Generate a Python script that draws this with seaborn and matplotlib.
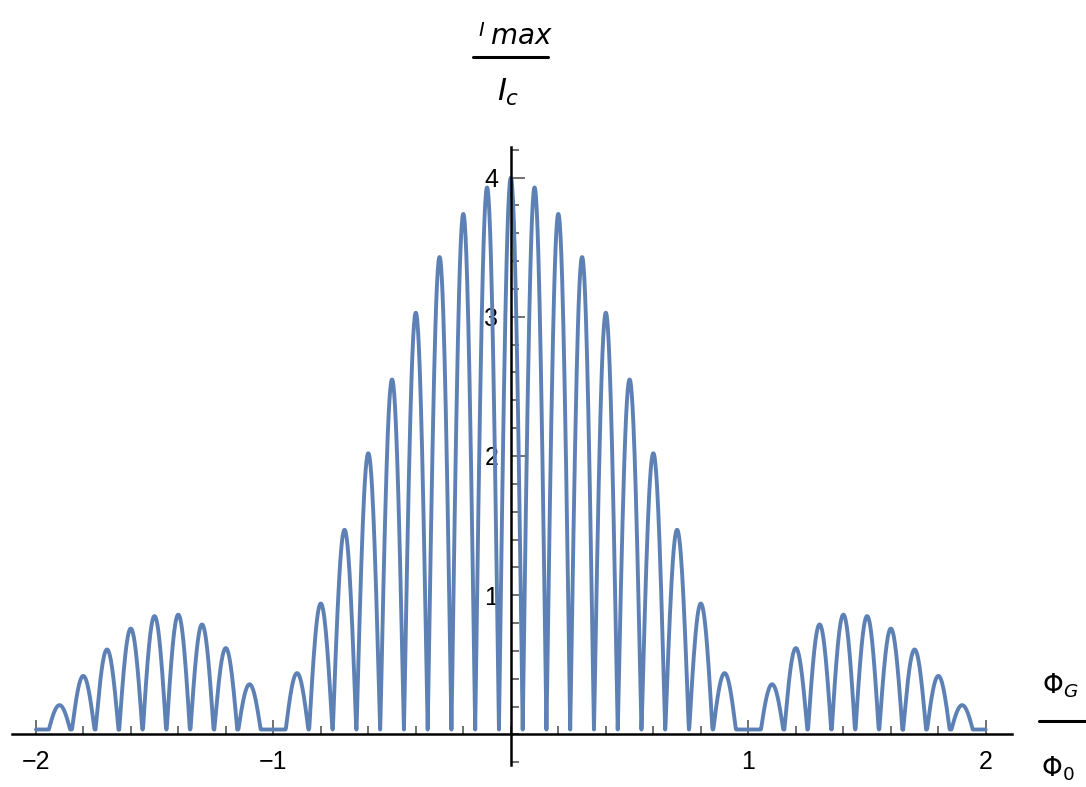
import numpy as np
import pandas as pd
import matplotlib
matplotlib.use("Agg")
from matplotlib import pyplot as plt
from matplotlib.ticker import FixedLocator, MultipleLocator
import seaborn as sns

# centre of every lobe (Phi_G / Phi_0) and its peak height (I_max / I_c)
lobe_x = [-2.0, -1.9, -1.8, -1.7, -1.6, -1.5, -1.4, -1.3, -1.2, -1.1,
          -1.0, -0.9, -0.8, -0.7, -0.6, -0.5, -0.4, -0.3, -0.2, -0.1,
          0.0, 0.1, 0.2, 0.3, 0.4, 0.5, 0.6, 0.7, 0.8, 0.9,
          1.0, 1.1, 1.2, 1.3, 1.4, 1.5, 1.6, 1.7, 1.8, 1.9, 2.0]
lobe_h = [0.0, 0.21, 0.42, 0.61, 0.76, 0.85, 0.86, 0.79, 0.62, 0.36,
          0.0, 0.44, 0.94, 1.47, 2.02, 2.55, 3.03, 3.43, 3.74, 3.93,
          4.00, 3.93, 3.74, 3.43, 3.03, 2.55, 2.02, 1.47, 0.94, 0.44,
          0.0, 0.36, 0.62, 0.79, 0.86, 0.85, 0.76, 0.61, 0.42, 0.21, 0.0]
half_width = 0.05   # each lobe spans centre +- half_width
floor = 0.035       # the curve never drops below this in the picture
x_range = (-2.0, 2.0)

x_ticks = [-2, -1, 1, 2]
y_ticks = [1, 2, 3, 4]

# build the arches lobe by lobe
xs, ys = [], []
for c, h in zip(lobe_x, lobe_h):
    t = np.linspace(-half_width, half_width, 60)
    xs.append(c + t)
    ys.append(h * np.abs(np.cos(np.pi * t / (2 * half_width))))
df = pd.DataFrame({"x": np.concatenate(xs), "y": np.concatenate(ys)})
df = df[(df["x"] >= x_range[0]) & (df["x"] <= x_range[1])]
df["y"] = df["y"].clip(lower=floor)

sns.set_style("white")
plt.rcParams["font.family"] = ["Liberation Sans", "DejaVu Sans"]

fig = plt.figure(figsize=(10.86, 7.87), dpi=100)
ax = fig.add_axes([12 / 1086, 22 / 787, 1000 / 1086, 618 / 787])

sns.lineplot(data=df, x="x", y="y", ax=ax, color="#5e81b5", lw=2.8,
             estimator=None, sort=False)

ax.set_xlim(-2.1, 2.11)
ax.set_ylim(-0.22, 4.22)
ax.set_xlabel("")
ax.set_ylabel("")

for side in ["top", "right"]:
    ax.spines[side].set_visible(False)
for side in ["left", "bottom"]:
    ax.spines[side].set_position(("data", 0))
    ax.spines[side].set_color("black")
    ax.spines[side].set_linewidth(1.8)

ax.xaxis.set_major_locator(FixedLocator(x_ticks))
ax.yaxis.set_major_locator(FixedLocator(y_ticks))
ax.xaxis.set_minor_locator(MultipleLocator(0.2))
ax.yaxis.set_minor_locator(MultipleLocator(0.2))
ax.tick_params(which="both", bottom=True, left=True, direction="in",
               color="#666666", width=1.3, labelsize=18, labelcolor="black")
ax.tick_params(which="major", length=10)
ax.tick_params(which="minor", length=6)
ax.tick_params(axis="x", which="major", pad=11)
ax.tick_params(axis="y", which="major", pad=9)


def px(x, y):
    return x / 1086, 1 - y / 787


# axis labels drawn as stacked fractions, like the original
fig.text(*px(482, 31), "$I$", fontsize=14, ha="center", va="center", color="black")
fig.text(*px(521, 37), "$max$", fontsize=20, ha="center", va="center", color="black")
fig.add_artist(plt.Line2D([473 / 1086, 548 / 1086], [1 - 57 / 787, 1 - 57 / 787],
                          color="black", lw=2.2, transform=fig.transFigure))
fig.text(*px(508, 92), "$I_c$", fontsize=22, ha="center", va="center", color="black")

fig.text(*px(1060, 686), r"$\Phi_G$", fontsize=19, ha="center", va="center", color="black")
fig.add_artist(plt.Line2D([1039 / 1086, 1085 / 1086], [1 - 721 / 787, 1 - 721 / 787],
                          color="black", lw=2.2, transform=fig.transFigure))
fig.text(*px(1058, 769), r"$\Phi_0$", fontsize=19, ha="center", va="center", color="black")

fig.savefig("out.png", dpi=100)
